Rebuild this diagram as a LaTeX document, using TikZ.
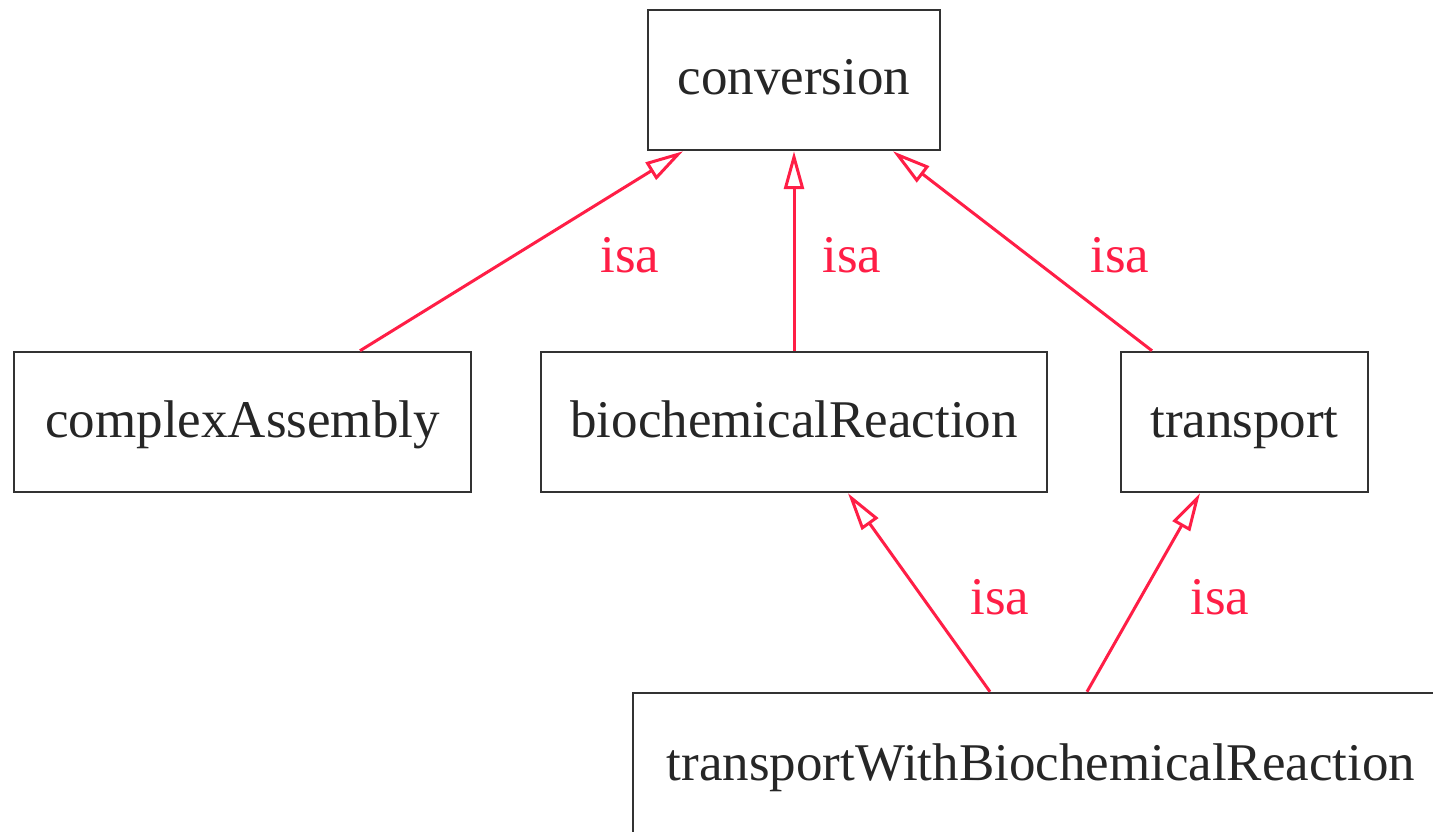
\documentclass[tikz,border=0pt]{standalone}
\usepackage{fontspec}
\setmainfont{Liberation Serif}
\usetikzlibrary{arrows.meta}
\definecolor{isared}{RGB}{255,30,70}
\definecolor{boxgray}{RGB}{50,50,50}
\tikzset{
  cls/.style={draw=boxgray, line width=2.5pt, rectangle, inner sep=0pt,
    minimum height=140pt, font=\fontsize{53}{60}\selectfont, text=black!85,
    text height=38pt, text depth=8pt},
  isaedge/.style={draw=isared, line width=3pt,
    -{Triangle[open, length=38pt, width=20pt, line width=3pt]}},
  isalabel/.style={text=isared, font=\fontsize{53}{60}\selectfont, inner sep=0pt}
}
\begin{document}
\begin{tikzpicture}
\useasboundingbox (0,0) rectangle (1433pt,-832pt);
\fill[white] (0,0) rectangle (1433pt,-832pt);
\node[cls, minimum width=292pt] (conv) at (794pt,-80pt) {conversion};
\node[cls, minimum width=457pt] (cA) at (242.5pt,-422pt) {complexAssembly};
\node[cls, minimum width=506pt] (bR) at (794pt,-422pt) {biochemicalReaction};
\node[cls, minimum width=247pt] (tr) at (1244.5pt,-422pt) {transport};
\node[cls, minimum width=816pt, minimum height=144pt] (tw) at (1041pt,-765pt) {transportWithBiochemicalReaction};

\draw[isaedge] ([xshift=117.5pt]cA.north) -- ([xshift=-111pt]conv.south);
\draw[isaedge] (bR.north) -- (conv.south);
\draw[isaedge] ([xshift=-92.5pt]tr.north) -- ([xshift=99pt]conv.south);
\draw[isaedge] ([xshift=-51pt]tw.north) -- ([xshift=54pt]bR.south);
\draw[isaedge] ([xshift=46pt]tw.north) -- ([xshift=-44.5pt]tr.south);

\node[isalabel] (l1) at (630pt,-255pt) {isa};
\node[isalabel] (l2) at (852pt,-255pt) {isa};
\node[isalabel] (l3) at (1120pt,-255pt) {isa};
\node[isalabel] (l4) at (1000pt,-597pt) {isa};
\node[isalabel] (l5) at (1220pt,-597pt) {isa};
\end{tikzpicture}
\end{document}
